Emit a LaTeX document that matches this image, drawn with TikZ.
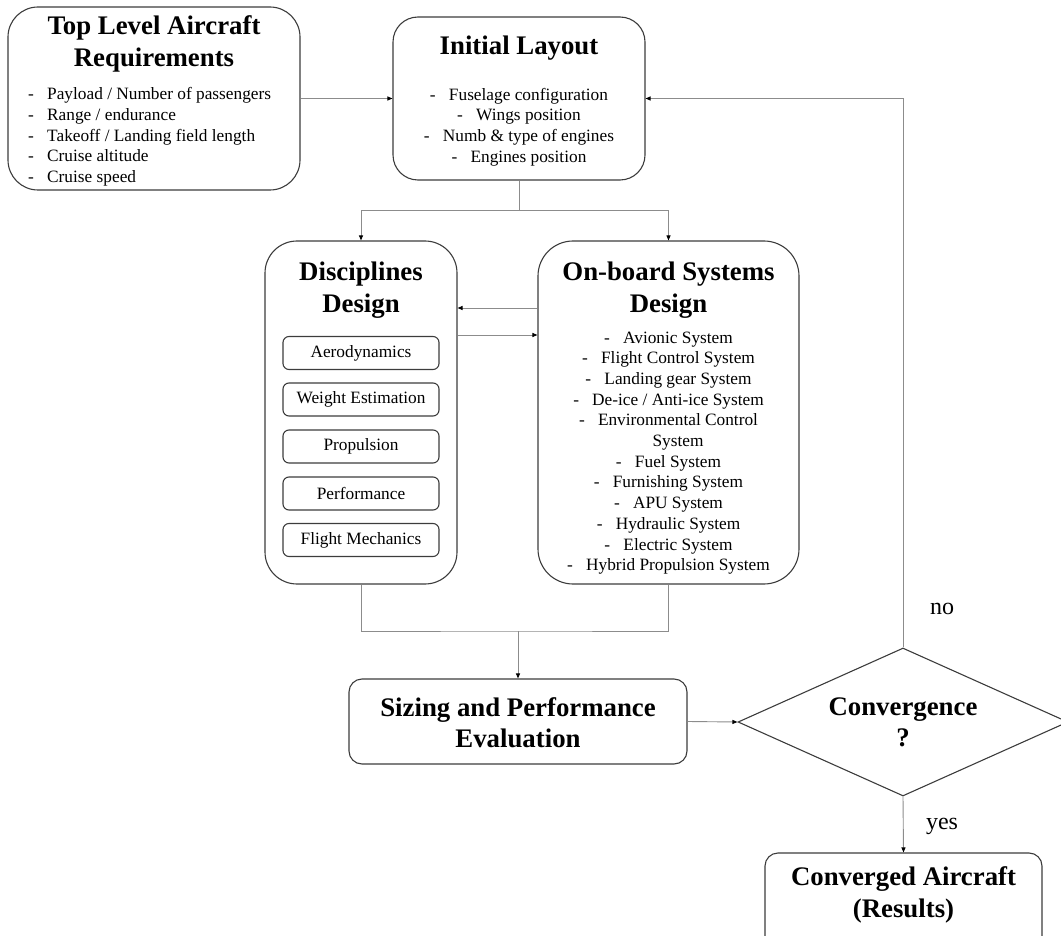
\documentclass[tikz,border=0pt]{standalone}
\usepackage{fontspec}
\setmainfont{Liberation Serif}
\usetikzlibrary{shapes.geometric,arrows.meta}

\definecolor{boxline}{RGB}{60,60,60}
\definecolor{wire}{RGB}{140,140,140}

\newcommand\ttlfont{\fontsize{26.8}{31.5}\selectfont\bfseries}
\newcommand\bodyfont{\fontsize{17.3}{20.7}\selectfont}
\newcommand\dashitem[1]{\makebox[19pt][l]{-}#1}

\begin{document}
\begin{tikzpicture}[x=1pt,y=-1pt,
  box/.style={draw=boxline, line width=1.1pt, rounded corners=#1, inner sep=0pt},
  txt/.style={inner sep=0pt, align=center},
  title/.style={txt, font=\ttlfont},
  body/.style={txt, font=\bodyfont},
  wireline/.style={draw=wire, line width=0.9pt},
  arr/.style={wireline, -{Triangle[length=5pt,width=4pt,color=black]}},
  lbl/.style={inner sep=0pt, font=\fontsize{24}{28}\selectfont}
]
\useasboundingbox (0,0) rectangle (1061,936);
\clip (0,0) rectangle (1061,936);

% --- boxes ---
\node[box=30pt, minimum width=292pt, minimum height=183pt] (tlr) at (154,98.5) {};
\node[box=25pt, minimum width=252pt, minimum height=163pt] (il) at (519,98.5) {};
\node[box=32pt, minimum width=192pt, minimum height=343pt] (disc) at (361,412.5) {};
\node[box=35pt, minimum width=261pt, minimum height=343pt] (ob) at (668.5,412.5) {};
\node[box=13pt, minimum width=338pt, minimum height=85pt] (size) at (518,721.5) {};
\node[draw=boxline, line width=1.1pt, shape=diamond, inner sep=0pt,
      minimum width=330pt, minimum height=148pt] (conv) at (903,722) {};
\node[box=13pt, minimum width=277pt, minimum height=100pt] (done) at (903.5,903) {};

% --- inner discipline boxes ---
\foreach \n/\y/\t in {aero/353/Aerodynamics, weight/399.5/Weight Estimation,
                      prop/446.5/Propulsion, perf/493.5/Performance,
                      mech/540/Flight Mechanics}{
  \node[box=6pt, minimum width=156pt, minimum height=33pt, font=\bodyfont] (\n) at (361,\y) {\t};
}

% --- texts ---
\node[title] (tlrT) at (154,44) {Top Level Aircraft\\Requirements};
\node[body, align=left, anchor=west] (tlrB) at (28,137)
  {\dashitem{Payload / Number of passengers}\\
   \dashitem{Range / endurance}\\
   \dashitem{Takeoff / Landing field length}\\
   \dashitem{Cruise altitude}\\
   \dashitem{Cruise speed}};

\node[title] (ilT) at (519,48) {Initial Layout};
\node[body] (ilB) at (519,127)
  {\dashitem{Fuselage configuration}\\
   \dashitem{Wings position}\\
   \dashitem{Numb \& type of engines}\\
   \dashitem{Engines position}};

\node[title] (discT) at (361,290) {Disciplines\\Design};

\node[title] (obT) at (668.5,290) {On-board Systems\\Design};
\node[body] (obB) at (668.5,453)
  {\dashitem{Avionic System}\\
   \dashitem{Flight Control System}\\
   \dashitem{Landing gear System}\\
   \dashitem{De-ice / Anti-ice System}\\
   \dashitem{Environmental Control}\\
   \hspace*{19pt}System\\
   \dashitem{Fuel System}\\
   \dashitem{Furnishing System}\\
   \dashitem{APU System}\\
   \dashitem{Hydraulic System}\\
   \dashitem{Electric System}\\
   \dashitem{Hybrid Propulsion System}};

\node[title] (sizeT) at (518,722.5) {Sizing and Performance\\Evaluation};
\node[title] (convT) at (903,722.5) {Convergence\\?};
\node[title] (doneT) at (903.5,895) {Converged Aircraft\\(Results)};

\node[lbl] (no) at (942,609) {no};
\node[lbl] (yes) at (942,826) {yes};

% --- connectors ---
\coordinate (split) at (519,210);
\coordinate (join) at (518,631);

\draw[arr] (tlr.east) -- (il.west);
\draw[wireline] (il.south) -- (split);
\draw[arr] (split) -| (disc.north);
\draw[arr] (split) -| (ob.north);

\draw[arr] (ob.west |- 0,308) -- (disc.east |- 0,308);
\draw[arr] (disc.east |- 0,335) -- (ob.west |- 0,335);

\draw[wireline] (disc.south) |- (join) -| (ob.south);
\draw[arr] (join) -- (size.north);

\draw[arr] (size.east) -- (conv.west);
\draw[arr] (conv.north) |- (il.east);
\draw[arr] (conv.south) -- (done.north);
\end{tikzpicture}
\end{document}
